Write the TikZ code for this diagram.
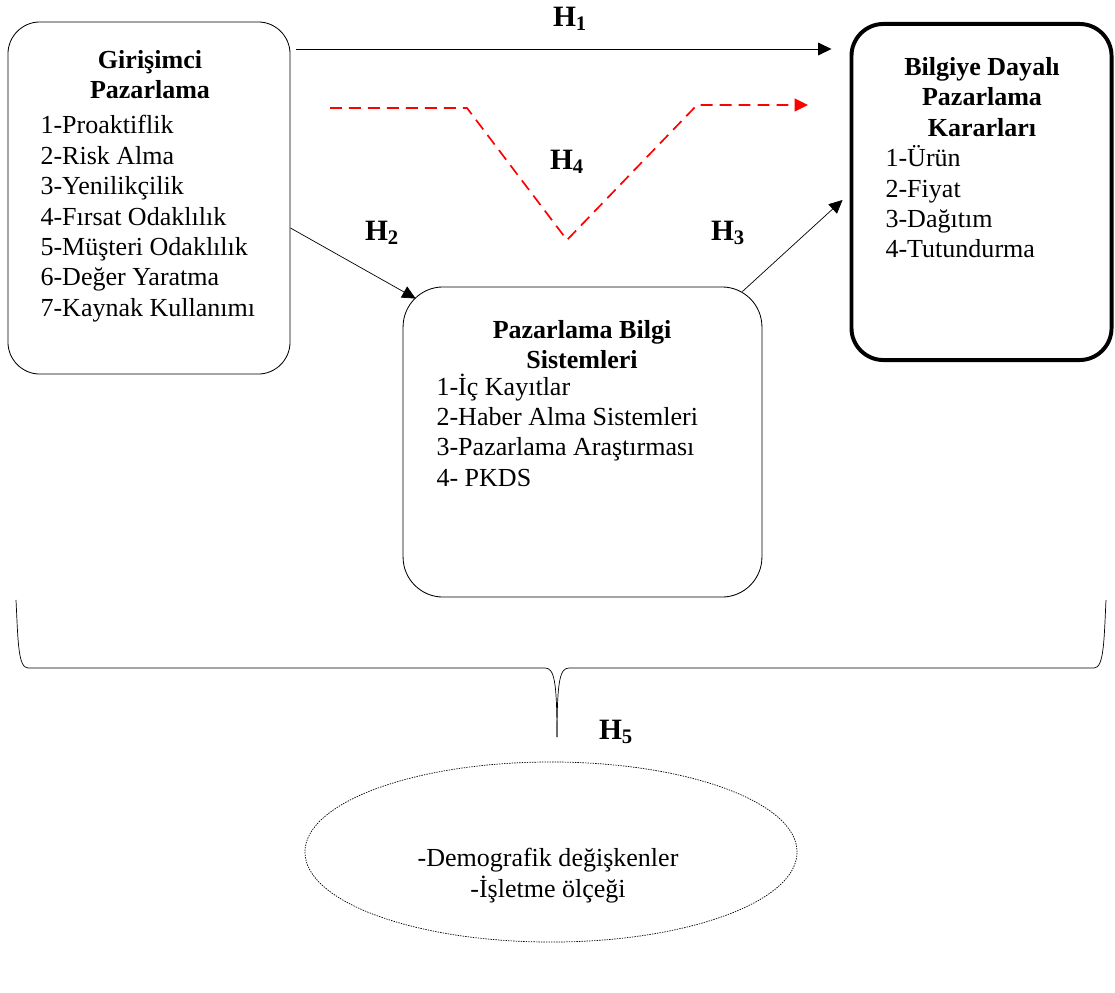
\documentclass[tikz,border=0pt]{standalone}
\usepackage{fontspec}
\setmainfont{Liberation Serif}
\usetikzlibrary{arrows.meta,positioning,shapes.geometric}

\newcommand{\hyp}[1]{\textbf{H\textsubscript{#1}}}

\begin{document}
\begin{tikzpicture}[
  x=0.025cm, y=-0.025cm,
  kutu/.style={draw, rounded corners=0.8cm, inner sep=0pt, line width=0.6pt},
  baslik/.style={font=\fontsize{18.5}{21.5}\selectfont\bfseries, align=center, inner sep=0pt},
  liste/.style={font=\fontsize{18.5}{21.6}\selectfont, align=left, inner sep=0pt},
  hlab/.style={font=\fontsize{21}{24}\selectfont, inner sep=0pt},
  ok/.style={-{Triangle[length=9.5pt,width=9pt]}, line width=0.5pt},
  kesik/.style={red, line width=1.2pt, dash pattern=on 8.5pt off 5pt,
    -{Triangle[length=9.5pt,width=9pt]}},
  thick
]
  \useasboundingbox (0,0) rectangle (1115,992);

  % Girisimci pazarlama
  \node[kutu, minimum width=7.05cm, minimum height=8.8cm] (gp) at (149,198) {};
  \node[baslik, anchor=north] (gpb) at (150,50) {Girişimci\\Pazarlama};
  \node[liste, anchor=north west] (gpl) at (40,115) {1-Proaktiflik\\2-Risk Alma\\3-Yenilikçilik\\4-Fırsat Odaklılık\\5-Müşteri Odaklılık\\6-Değer Yaratma\\7-Kaynak Kullanımı};

  % Pazarlama bilgi sistemleri
  \node[kutu, rounded corners=1cm, minimum width=8.97cm, minimum height=7.75cm] (pbs) at (582.5,442) {};
  \node[baslik, anchor=north] (pbsb) at (582,320) {Pazarlama Bilgi\\Sistemleri};
  \node[liste, anchor=north west] (pbsl) at (436,373) {1-İç Kayıtlar\\2-Haber Alma Sistemleri\\3-Pazarlama Araştırması\\4- PKDS};

  % Bilgiye dayali kararlar
  \node[kutu, line width=2.8pt, minimum width=6.5cm, minimum height=8.4cm] (bdk) at (981.5,192) {};
  \node[baslik, anchor=north] (bdkb) at (982,57) {Bilgiye Dayalı\\Pazarlama\\Kararları};
  \node[liste, anchor=north west] (bdkl) at (885,145) {1-Ürün\\2-Fiyat\\3-Dağıtım\\4-Tutundurma};

  % Kontrol degiskenleri
  \node[draw, ellipse, line width=0.5pt, dash pattern=on 1pt off 0.8pt,
    minimum width=12.3cm, minimum height=4.5cm] (kd) at (551,852) {};
  \node[liste, align=center, anchor=north] (kdt) at (548,848) {-Demografik değişkenler\\-İşletme ölçeği};

  % Hipotez oklari
  \draw[ok] ([shift={(6,-149)}]gp.east) -- ([shift={(-18,-143)}]bdk.west);
  \draw[ok] ([shift={(0,30)}]gp.east) -- ([shift={(13,12)}]pbs.north west);
  \draw[ok] ([shift={(-20,5)}]pbs.north east) -- ([shift={(-7,8)}]bdk.west);

  \coordinate (r1) at (330,108);
  \coordinate (r2) at (467,108);
  \coordinate (r3) at (567,240);
  \coordinate (r4) at (697,105);
  \coordinate (r5) at (808,105);
  \draw[kesik] (r1) -- (r2) -- (r3) -- (r4) -- (r5);

  % Kume parantezi
  \draw[line width=0.5pt] (16,600) .. controls (18,640) and (18,668) .. (28,668)
    -- (545,668) .. controls (554,668) and (557,680) .. (557,737);
  \draw[line width=0.5pt] (1106,600) .. controls (1104,640) and (1104,668) .. (1094,668)
    -- (569,668) .. controls (560,668) and (557,680) .. (557,737);

  \node[hlab] (h1) at (570,19) {\hyp{1}};
  \node[hlab] (h2) at (382,233) {\hyp{2}};
  \node[hlab] (h3) at (728,233) {\hyp{3}};
  \node[hlab] (h4) at (567,162) {\hyp{4}};
  \node[hlab] (h5) at (616,732) {\hyp{5}};
\end{tikzpicture}
\end{document}
